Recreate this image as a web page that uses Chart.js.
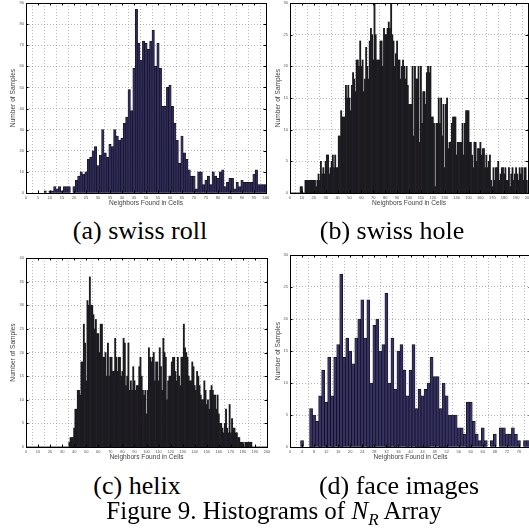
<!DOCTYPE html>
<html>
<head>
<meta charset="utf-8">
<script src="https://cdn.jsdelivr.net/npm/chart.js@4.4.1/dist/chart.umd.min.js"></script>
<style>
  html, body { margin: 0; padding: 0; background: #fff; overflow: hidden; }
  body { width: 529px; height: 531px; position: relative; }
  .box { position: absolute; }
  .cap { position: absolute; font-family: "Liberation Serif", "Times New Roman", serif; font-size: 26px; line-height: 1; color: #000; white-space: nowrap; transform: translate(-50%, -50%); }
</style>
</head>
<body>
<div class="box" style="left:0;top:0;width:270px;height:212px"><canvas id="c1"></canvas></div>
<div class="box" style="left:265px;top:0;width:280px;height:212px"><canvas id="c2"></canvas></div>
<div class="box" style="left:0;top:252px;width:270px;height:214px"><canvas id="c3"></canvas></div>
<div class="box" style="left:265px;top:252px;width:280px;height:214px"><canvas id="c4"></canvas></div>

<div class="cap" style="left:140px;top:231px">(a) swiss roll</div>
<div class="cap" style="left:392px;top:231px">(b) swiss hole</div>
<div class="cap" style="left:137px;top:486px">(c) helix</div>
<div class="cap" style="left:399px;top:486px">(d) face images</div>
<div class="cap" style="left:274px;top:510px;font-size:25px">Figure 9. Histograms of <i>N</i><sub style="font-size:17px;line-height:0"><i>R</i></sub> Array</div>

<script>
// counts per bin, bin index = neighbours found
const swissRoll = [
  0,0,0,0,0,0,0,0,1,0,
  1,1,3,2,3,1,3,3,3,0,
  3,6,8,10,9,10,16,17,20,22,
  13,18,30,19,17,23,22,30,27,25,
  26,33,36,49,39,59,87,71,63,72,
  71,68,72,77,60,71,59,41,41,50,
  51,41,33,25,14,27,19,16,11,8,
  8,2,10,10,4,6,8,4,10,8,
  7,10,11,3,5,7,7,2,5,3,
  6,5,5,5,5,9,11,4,4,4,
  4
];

const swissHole = [
  0,0,0,0,0,0,0,0,0,1,
  1,0,0,2,2,2,2,2,2,2,
  2,2,1,2,3,2,5,3,4,3,
  5,6,6,3,4,5,6,4,6,4,
  4,9,9,13,12,12,12,17,15,17,
  15,13,17,19,18,16,21,21,20,24,
  20,21,16,18,23,20,18,24,26,25,
  21,30,25,21,21,21,24,24,20,26,
  25,25,26,27,26,30,25,24,20,22,
  24,21,21,18,20,21,20,18,20,17,
  14,14,14,20,9,20,18,18,20,8,
  20,11,16,16,14,19,20,19,20,12,
  12,11,1,11,11,15,11,15,9,14,
  4,14,15,7,8,8,11,12,12,12,
  6,8,8,8,8,11,6,11,13,13,
  13,8,8,6,4,8,8,5,7,7,
  8,6,7,7,4,6,4,5,6,2,
  1,4,2,4,4,5,2,3,4,4,
  3,4,2,2,4,1,3,4,2,3,
  4,3,2,4,3,4,2,4,4,2,
  0
];

const helix = [
  0,0,0,0,0,0,0,0,0,0,
  0,0,0,0,0,0,0,0,0,0,
  0,0,0,0,0,0,0,0,0,0,
  0,0,0,0,0,0,1,2,2,2,
  4,8,8,12,12,11,18,18,26,22,
  14,31,30,36,30,30,28,25,27,24,
  24,20,26,26,19,19,20,15,22,15,
  19,19,16,16,23,19,16,19,19,15,
  16,23,22,13,15,22,12,14,12,17,
  14,12,13,13,17,19,15,12,11,12,
  7,12,21,19,18,19,20,14,18,18,
  14,21,17,12,23,20,19,10,14,15,
  15,18,19,19,16,14,19,15,13,19,
  19,26,21,20,19,15,14,14,18,17,
  13,12,16,15,13,11,10,10,14,12,
  9,10,8,12,13,12,11,11,8,11,
  7,5,5,4,3,5,8,4,3,9,
  3,6,4,4,3,3,2,2,1,1,
  1,0,1,1,1,1,1,1,0,0,
  0,0,0,0,0,0,0,0,0,0,
  0
];

const faceImages = [
  0,0,0,0,1,0,0,6,5,4,
  8,12,7,14,8,14,16,27,14,17,
  15,13,17,20,23,17,23,10,19,20,
  15,16,24,10,17,9,15,16,12,8,
  12,16,6,9,8,9,10,14,11,11,
  6,10,8,5,5,5,3,3,2,7,
  7,4,2,1,3,1,0,1,2,0,
  3,3,2,2,3,2,1,0,1,1,
  1
];

// axis limits and tick steps: [xmax, xstep, ymax, ystep]
const axesA = [100, 5, 90, 10];
const axesB = [200, 10, 30, 5];
const axesC = [200, 10, 40, 5];
const axesD = [80, 4, 30, 5];

const xTitle = 'Neighbors Found in Cells';
const yTitle = 'Number of Samples';

// matlab style box with inward tick marks
const boxPlugin = {
  id: 'box',
  afterDraw(chart) {
    const { ctx, chartArea: a, scales } = chart;
    ctx.save();
    ctx.strokeStyle = '#000';
    ctx.lineWidth = 1;
    ctx.strokeRect(Math.round(a.left) + 0.5, Math.round(a.top) + 0.5,
      Math.round(a.right - a.left), Math.round(a.bottom - a.top));
    ctx.beginPath();
    scales.x.ticks.forEach(t => {
      const px = Math.round(scales.x.getPixelForValue(t.value)) + 0.5;
      ctx.moveTo(px, a.bottom); ctx.lineTo(px, a.bottom - 2.5);
      ctx.moveTo(px, a.top); ctx.lineTo(px, a.top + 2.5);
    });
    scales.y.ticks.forEach(t => {
      const py = Math.round(scales.y.getPixelForValue(t.value)) + 0.5;
      ctx.moveTo(a.left, py); ctx.lineTo(a.left + 2.5, py);
      ctx.moveTo(a.right, py); ctx.lineTo(a.right - 2.5, py);
    });
    ctx.stroke();
    ctx.restore();
  }
};

const makeHist = (id, counts, lims, opts) => {
  const [xmax, xstep, ymax, ystep] = lims;
  return new Chart(document.getElementById(id), {
    type: 'bar',
    data: {
      datasets: [{
        data: counts.map((v, i) => ({ x: i, y: v })),
        backgroundColor: opts.fill,
        borderColor: opts.edge,
        borderWidth: opts.edgeWidth,
        barPercentage: 1,
        categoryPercentage: 1,
        grouped: false
      }]
    },
    options: {
      responsive: true,
      maintainAspectRatio: false,
      animation: false,
      events: [],
      layout: { padding: opts.pad },
      plugins: { legend: { display: false }, tooltip: { enabled: false } },
      scales: {
        x: {
          type: 'linear',
          min: 0,
          max: xmax,
          offset: false,
          grid: { color: '#9a9a9a', lineWidth: 0.7, drawTicks: false },
          border: { display: false, dash: [1, 2] },
          ticks: {
            stepSize: xstep,
            autoSkip: false,
            maxRotation: 0,
            padding: 2,
            color: '#555',
            font: { family: 'Liberation Sans', size: 4 }
          },
          title: {
            display: true,
            text: xTitle,
            color: '#444',
            padding: { top: 0, bottom: 5 },
            font: { family: 'Liberation Sans', size: 6.6 }
          },
          afterFit(s) { s.height = 19; s.paddingLeft = 0; s.paddingRight = 0; }
        },
        y: {
          min: 0,
          max: ymax,
          grid: { color: '#9a9a9a', lineWidth: 0.7, drawTicks: false },
          border: { display: false, dash: [1, 2] },
          ticks: {
            stepSize: ystep,
            padding: 2,
            color: '#555',
            font: { family: 'Liberation Sans', size: 4 }
          },
          title: {
            display: true,
            text: yTitle,
            color: '#444',
            padding: { top: 9, bottom: 0 },
            font: { family: 'Liberation Sans', size: 6.6 }
          },
          afterFit(s) { s.width = opts.yw; s.paddingTop = 0; s.paddingBottom = 0; }
        }
      }
    },
    plugins: [boxPlugin]
  });
};

makeHist('c1', swissRoll, axesA, {
  fill: '#2f2b59', edge: '#0d0c18', edgeWidth: 0.6, yw: 26,
  pad: { top: 3, right: 4, left: 0, bottom: 0 }
});
makeHist('c2', swissHole, axesB, {
  fill: '#1c1b20', edge: '#1c1b20', edgeWidth: 0, yw: 25,
  pad: { top: 3, right: 17, left: 0, bottom: 0 }
});
makeHist('c3', helix, axesC, {
  fill: '#1c1b20', edge: '#1c1b20', edgeWidth: 0, yw: 26,
  pad: { top: 6, right: 3, left: 0, bottom: 0 }
});
makeHist('c4', faceImages, axesD, {
  fill: '#363263', edge: '#0d0c18', edgeWidth: 0.7, yw: 25,
  pad: { top: 3, right: 14, left: 0, bottom: 0 }
});
</script>
</body>
</html>
